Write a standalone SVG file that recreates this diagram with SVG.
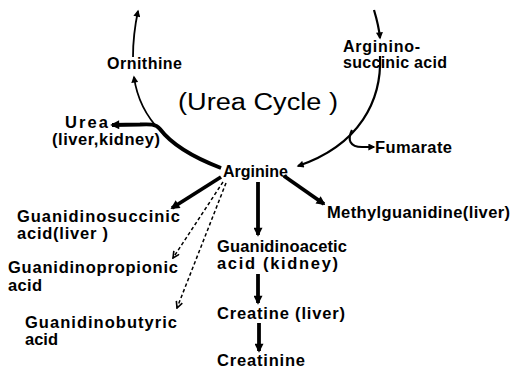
<svg xmlns="http://www.w3.org/2000/svg" width="512" height="371" viewBox="0 0 512 371">
<style>
text{font-family:"Liberation Sans",Arial,sans-serif;font-weight:bold;font-size:16px;fill:#000}
.t17{font-size:16.5px}
.title{font-weight:normal;font-size:23px}
.thin{fill:none;stroke:#000;stroke-width:1.8}
.mid{fill:none;stroke:#000;stroke-width:2.2}
.thick{fill:none;stroke:#000;stroke-width:3.8}
.dash{fill:none;stroke:#000;stroke-width:1.5;stroke-dasharray:3.5 2.5}
</style>
<defs>
<marker id="ah" viewBox="0 0 10 10" refX="8" refY="5" markerWidth="8" markerHeight="7" markerUnits="userSpaceOnUse" orient="auto"><path d="M0,0 L10,5 L0,10 z"/></marker>
<marker id="ahb" viewBox="0 0 10 10" refX="8" refY="5" markerWidth="10" markerHeight="9" markerUnits="userSpaceOnUse" orient="auto"><path d="M0,0 L10,5 L0,10 z"/></marker>
<marker id="ahv" viewBox="0 0 10 10" refX="9" refY="5" markerWidth="8" markerHeight="8" markerUnits="userSpaceOnUse" orient="auto"><path d="M1,1 L9,5 L1,9" fill="none" stroke="#000" stroke-width="2"/></marker>
</defs>
<g id="connectors">
<path class="thin" d="M133,57 C133,40 135,25 138,11" marker-end="url(#ah)"/>
<path class="thin" d="M221,168 C170,148 140,120 134,77" marker-end="url(#ah)"/>
<path class="thick" d="M221,168 C195,158 172,145 160,129 C156,124 150,124 140,124.5 L112,125" marker-end="url(#ahb)"/>
<path class="mid" d="M374,10 C377,20 379,28 380,38" marker-end="url(#ah)"/>
<path class="mid" d="M380,56 C382,100 360,145 298,166" marker-end="url(#ah)"/>
<path class="mid" d="M352,130 C347,140 350,147 362,147 L374,147" marker-end="url(#ah)"/>
<path class="thick" d="M221,177 L172,208" marker-end="url(#ahb)"/>
<path class="dash" d="M223,182 L173,258" marker-end="url(#ahv)"/>
<path class="dash" d="M226,183 L177,308" marker-end="url(#ahv)"/>
<path class="thick" d="M258,182 L258,235" marker-end="url(#ahb)"/>
<path class="thick" d="M284,176 L324,204" marker-end="url(#ahb)"/>
<path class="thick" d="M258,274 L258,303" marker-end="url(#ahb)"/>
<path class="thick" d="M259,323 L259,351" marker-end="url(#ahb)"/>
</g>
<g id="title"><text class="title" x="178" y="110" textLength="160" lengthAdjust="spacingAndGlyphs">(Urea Cycle )</text></g>
<g id="ornithine"><text x="107" y="69" textLength="75">Ornithine</text></g>
<g id="argininosuccinic"><text x="343" y="52" textLength="77">Arginino-</text><text x="343" y="68" textLength="104">succinic acid</text></g>
<g id="urea"><text class="t17" x="65" y="128" textLength="43">Urea</text><text class="t17" x="52" y="145" textLength="108">(liver,kidney)</text></g>
<g id="fumarate"><text class="t17" x="375" y="153" textLength="77">Fumarate</text></g>
<g id="arginine"><text x="223" y="177" textLength="65">Arginine</text></g>
<g id="guanidinosuccinic"><text class="t17" x="17" y="222" textLength="163">Guanidinosuccinic</text><text class="t17" x="17" y="239" textLength="91">acid(liver )</text></g>
<g id="methylguanidine"><text class="t17" x="327" y="218" textLength="183">Methylguanidine(liver)</text></g>
<g id="guanidinoacetic"><text class="t17" x="217" y="252" textLength="130">Guanidinoacetic</text><text class="t17" x="217" y="269" textLength="121">acid (kidney)</text></g>
<g id="guanidinopropionic"><text class="t17" x="8" y="273" textLength="170">Guanidinopropionic</text><text class="t17" x="8" y="291" textLength="34">acid</text></g>
<g id="guanidinobutyric"><text class="t17" x="25" y="328" textLength="152">Guanidinobutyric</text><text class="t17" x="25" y="345" textLength="33">acid</text></g>
<g id="creatine"><text class="t17" x="217" y="319" textLength="128">Creatine (liver)</text></g>
<g id="creatinine"><text class="t17" x="217" y="366" textLength="88">Creatinine</text></g>
</svg>
